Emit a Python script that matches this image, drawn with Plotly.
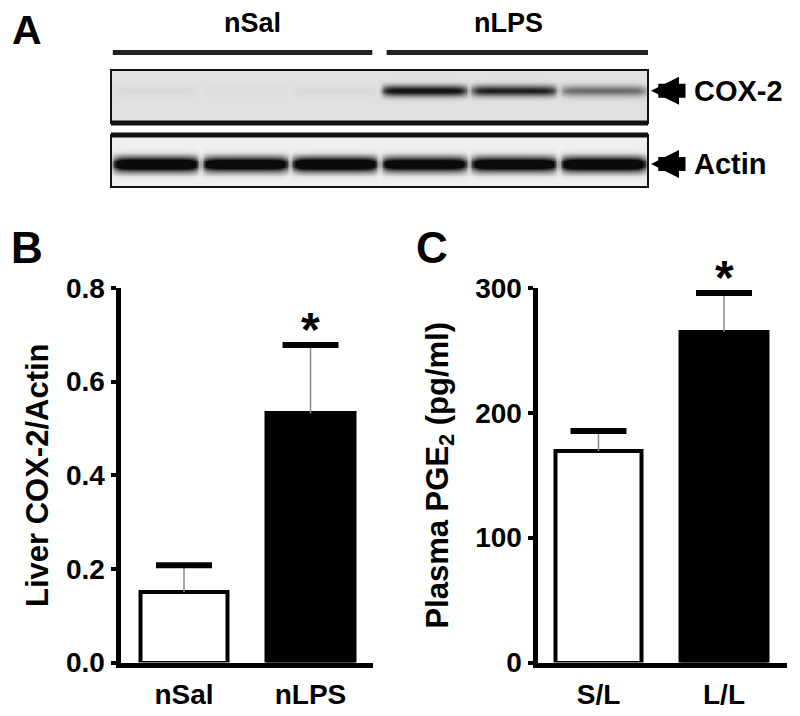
import numpy as np
import plotly.graph_objects as go

# ---- data ----
# panel A: western blot, band strength per lane (0 = no band, 1 = full)
lane_groups = ["nSal", "nLPS"]
lanes_per_group = 3
cox2_bands = [0.03, 0.02, 0.03, 0.95, 0.85, 0.5]
actin_bands = [1.0, 0.95, 1.0, 0.92, 0.95, 1.0]
blot_labels = ["COX-2", "Actin"]

# panel B: liver COX-2 / actin
b_groups = ["nSal", "nLPS"]
b_mean = [0.15, 0.532]
b_sem = [0.058, 0.146]
b_signif = [False, True]

# panel C: plasma PGE2 (pg/ml)
c_groups = ["S/L", "L/L"]
c_mean = [169.5, 265]
c_sem = [16.0, 31]
c_signif = [False, True]

FONT = "Liberation Sans, Arial, sans-serif"
W, H = 800, 716
OFF = 8  # page body margin the figure sits in


def fx(p):
    return (p - OFF) / W


def fy(p):
    return 1 - (p - OFF) / H


fig = go.Figure()


# ---- panel A: blot strips drawn as heatmaps ----
def blot_image(bands, center, spread, gain):
    n = len(bands)
    xs = np.linspace(0, n, n * 40, endpoint=False) + n / (n * 80)
    ys = np.linspace(0, 1, 60)
    lane = np.floor(xs).astype(int)
    u = xs - lane
    shape_x = np.clip(1 - ((u - 0.5) / 0.5) ** 10, 0, 1)
    shape_y = np.exp(-((ys - center) / spread) ** 2)
    amp = np.array(bands)[lane] * shape_x
    z = np.clip(gain * np.outer(shape_y, amp), 0, 1)
    return xs, ys, z


xs, ys, z = blot_image(cox2_bands, 0.61, 0.1, 1.15)
fig.add_trace(go.Heatmap(x=xs, y=ys, z=z, zmin=0, zmax=1, zsmooth="best",
                         colorscale=[[0, "#e1e1e1"], [1, "#151515"]],
                         showscale=False, hoverinfo="skip",
                         xaxis="x3", yaxis="y3"))
xs, ys, z = blot_image(actin_bands, 0.44, 0.14, 1.5)
fig.add_trace(go.Heatmap(x=xs, y=ys, z=z, zmin=0, zmax=1, zsmooth="best",
                         colorscale=[[0, "#f0f0f0"], [1, "#0a0a0a"]],
                         showscale=False, hoverinfo="skip",
                         xaxis="x4", yaxis="y4"))


# ---- panels B and C: bars with upper error bar ----
def add_bars(groups, means, sems, signif, xa, ya):
    fig.add_trace(go.Bar(
        x=groups, y=means, width=0.69,
        marker=dict(color=["white", "black"], line=dict(color="black", width=4)),
        error_y=dict(type="data", array=sems, arrayminus=[0] * len(sems),
                     symmetric=False, color="#8a8a8a", thickness=1.5, width=0),
        xaxis=xa, yaxis=ya))
    tops = [m + s for m, s in zip(means, sems)]
    fig.add_trace(go.Scatter(
        x=groups, y=tops, mode="markers", cliponaxis=False,
        marker=dict(symbol="line-ew", size=40, color="black",
                    line=dict(color="black", width=6)),
        xaxis=xa, yaxis=ya))
    for g, t, s in zip(groups, tops, signif):
        if s:
            fig.add_annotation(x=g, y=t, xref=xa, yref=ya, text="<b>*</b>",
                               showarrow=False, xanchor="center", yanchor="bottom",
                               yshift=-13,
                               font=dict(size=48, color="black", family=FONT))


add_bars(b_groups, b_mean, b_sem, b_signif, "x", "y")
add_bars(c_groups, c_mean, c_sem, c_signif, "x2", "y2")

axis_common = dict(showline=True, linecolor="black", linewidth=5, showgrid=False,
                   zeroline=False, color="black", automargin=False,
                   tickfont=dict(size=28, family=FONT, weight="bold"))
ytick_style = dict(ticks="outside", ticklen=5, tickwidth=4, tickcolor="black")
xtick_style = dict(ticks="outside", ticklen=3, tickcolor="rgba(0,0,0,0)")
title_font = dict(size=31, family=FONT, weight="bold")

fig.update_layout(
    width=W, height=H,
    margin=dict(l=0, r=0, t=0, b=0, autoexpand=False),
    paper_bgcolor="white", plot_bgcolor="white",
    showlegend=False, bargap=0,
    font=dict(family=FONT, color="black"),
    xaxis=dict(domain=[fx(120.5), fx(373)], range=[-0.502, 1.494],
               anchor="y", **xtick_style, **axis_common),
    yaxis=dict(domain=[fy(662.5), fy(288)], range=[0, 0.8], dtick=0.2,
               tickformat=".1f", anchor="x",
               title=dict(text="Liver COX-2/Actin", standoff=10, font=title_font),
               **ytick_style, **axis_common),
    xaxis2=dict(domain=[fx(537.5), fx(787)], range=[-0.486, 1.502],
                anchor="y2", **xtick_style, **axis_common),
    yaxis2=dict(domain=[fy(662.5), fy(288)], range=[0, 300], dtick=100,
                anchor="x2",
                title=dict(text="Plasma PGE<sub>2</sub> (pg/ml)", standoff=19,
                           font=title_font),
                **ytick_style, **axis_common),
    xaxis3=dict(domain=[fx(111), fx(648)], range=[0, 6], visible=False, anchor="y3"),
    yaxis3=dict(domain=[fy(123), fy(70)], range=[0, 1], visible=False, anchor="x3"),
    xaxis4=dict(domain=[fx(111), fx(648)], range=[0, 6], visible=False, anchor="y4"),
    yaxis4=dict(domain=[fy(187), fy(135)], range=[0, 1], visible=False, anchor="x4"),
)

# blot frames: thin box, heavy edge between the two strips
for ya, heavy in (("y3", 0), ("y4", 1)):
    fig.add_shape(type="rect", xref="x3 domain", yref=ya + " domain",
                  x0=0, x1=1, y0=0, y1=1, line=dict(color="#111", width=2))
    fig.add_shape(type="line", xref="x3 domain", yref=ya + " domain",
                  x0=0, x1=1, y0=heavy, y1=heavy, line=dict(color="#111", width=5))

# group bars and labels above the blot
n_groups = len(lane_groups)
for i, g in enumerate(lane_groups):
    start = i * lanes_per_group
    end = start + lanes_per_group
    x0 = start + (0.08 if i > 0 else 0.02)
    x1 = end - (0.08 if i < n_groups - 1 else -0.02)
    fig.add_shape(type="line", xref="x3", yref="paper", x0=x0, x1=x1,
                  y0=fy(52.5), y1=fy(52.5), line=dict(color="#222", width=5))
    inward = 0.11 if i == 0 else -0.11
    fig.add_annotation(x=(x0 + x1) / 2 + inward, y=fy(23), xref="x3", yref="paper",
                       text=g, showarrow=False, xanchor="center", yanchor="middle",
                       font=dict(size=27, family=FONT, weight="bold"))

# arrows and labels for the two strips
for label, ya, yc in ((blot_labels[0], "y3", 0.61), (blot_labels[1], "y4", 0.44)):
    fig.add_annotation(x=fx(651), y=yc, xref="paper", yref=ya, text="",
                       showarrow=True, ax=36, ay=0, arrowhead=2, arrowsize=0.4,
                       arrowwidth=14, arrowcolor="black", standoff=0)
    fig.add_annotation(x=fx(692), y=yc, xref="paper", yref=ya, text=label,
                       showarrow=False, xanchor="left", yanchor="middle",
                       font=dict(size=29, family=FONT, weight="bold"))

# panel letters
for letter, px, py, size in (("A", 27, 30, 41), ("B", 27, 248, 44), ("C", 432, 248, 44)):
    fig.add_annotation(x=fx(px), y=fy(py), xref="paper", yref="paper", text=letter,
                       showarrow=False, xanchor="center", yanchor="middle",
                       font=dict(size=size, family=FONT, weight="bold"))

fig.write_html("out.html")
